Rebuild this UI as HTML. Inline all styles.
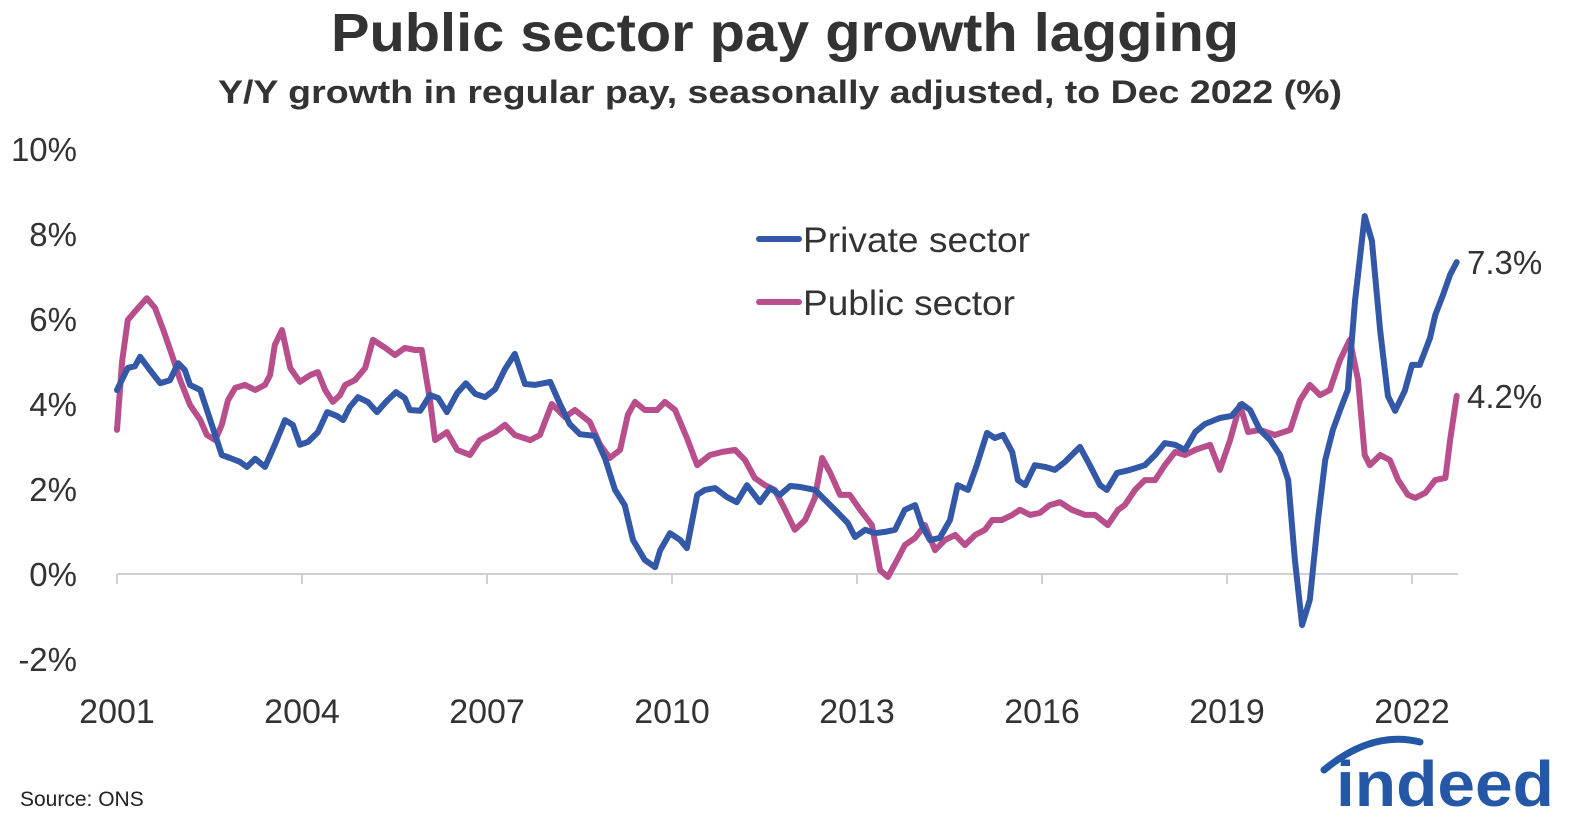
<!DOCTYPE html>
<html><head><meta charset="utf-8"><style>
html,body{margin:0;padding:0;background:#fff;overflow:hidden;width:1582px;height:824px;font-family:"Liberation Sans",sans-serif;}
svg{display:block;}
</style></head><body>
<svg id="chart" width="1582" height="824" xmlns="http://www.w3.org/2000/svg" font-family="Liberation Sans, sans-serif">
<text x="785" y="51" text-anchor="middle" font-size="54" font-weight="bold" fill="#333" textLength="908" lengthAdjust="spacingAndGlyphs">Public sector pay growth lagging</text>
<text x="780" y="103" text-anchor="middle" font-size="32" font-weight="bold" fill="#333" textLength="1124" lengthAdjust="spacingAndGlyphs">Y/Y growth in regular pay, seasonally adjusted, to Dec 2022 (%)</text>
<g id="axes"></g>
<g id="series"></g>
<g>
<line x1="759" y1="239" x2="799" y2="239" stroke="#3358a7" stroke-width="6" stroke-linecap="round"/>
<text x="803" y="252" font-size="35" fill="#333" textLength="227" lengthAdjust="spacingAndGlyphs">Private sector</text>
<line x1="759" y1="302" x2="799" y2="302" stroke="#b84f8c" stroke-width="6" stroke-linecap="round"/>
<text x="803" y="315" font-size="35" fill="#333" textLength="212" lengthAdjust="spacingAndGlyphs">Public sector</text>
</g>
<text x="20" y="806" font-size="21" fill="#222">Source: ONS</text>
<g>
<path d="M1324 770 Q1372 730 1420 742" stroke="#2557a7" stroke-width="7" fill="none" stroke-linecap="round"/>
<text x="1336" y="806" font-size="64" font-weight="bold" fill="#2557a7" textLength="218" lengthAdjust="spacingAndGlyphs">indeed</text>
</g>
</svg>
<script>
const NS="http://www.w3.org/2000/svg";
const yTicks=[-2,0,2,4,6,8,10];
const xTickYears=[2001,2004,2007,2010,2013,2016,2019,2022];
const privMonths=[0,2.1,3.5,4.5,6.4,8.4,10.3,11.9,13.2,14.2,16.2,17.5,19.1,20.4,22,23.9,25.3,26.9,28.8,30.7,32.7,34.2,35.6,37.2,39.1,40.9,42.8,44,45.3,46.9,48.8,50.6,52.5,54.3,56,57,59,60.9,62.5,64.2,66.2,67.9,69.7,71.6,73.6,75.5,77.4,79.4,81.3,84.3,86.2,88.1,90.1,93,95,96.9,98.8,100.4,102.7,104.7,105.7,107.6,109.6,110.9,112.9,114.4,116.4,118.7,120.6,122.6,125.1,127.1,129,131,132.9,135.8,137.8,139.7,142.2,143.6,145.6,147.5,149.4,151.4,153.3,155.3,156.6,158.2,160.1,162.1,163.6,165.6,167.3,169.3,170.8,172.4,174.2,175.3,176.7,178.6,180.6,182.5,184.5,187.4,189.3,191.3,192.6,194.6,197.1,200,202,203.9,205.9,207.8,209.8,211.7,214.6,216.9,218.9,220.5,222.4,224.4,226.3,227.9,229.2,230.6,232.1,233.7,235.1,236.6,238,239.5,240.9,242.8,244.2,245.8,247.3,248.7,250.6,252,253.5,255.5,256.5,258,259.4,260.7];
const privValues=[4.33,4.85,4.89,5.11,4.80,4.49,4.56,4.96,4.80,4.45,4.33,3.86,3.27,2.80,2.73,2.64,2.52,2.71,2.52,3.04,3.62,3.51,3.04,3.11,3.34,3.81,3.72,3.62,3.93,4.16,4.05,3.81,4.07,4.28,4.14,3.86,3.84,4.21,4.14,3.81,4.26,4.49,4.24,4.16,4.35,4.82,5.18,4.47,4.45,4.52,4.0,3.53,3.29,3.25,2.71,1.98,1.62,0.8,0.33,0.16,0.56,0.96,0.80,0.61,1.86,1.98,2.02,1.81,1.69,2.09,1.69,2.02,1.86,2.07,2.05,1.98,1.74,1.51,1.20,0.87,1.04,0.96,0.99,1.04,1.51,1.62,1.15,0.80,0.85,1.27,2.09,1.98,2.56,3.32,3.20,3.27,2.87,2.21,2.09,2.56,2.52,2.45,2.64,2.99,2.56,2.09,1.98,2.38,2.45,2.56,2.80,3.08,3.04,2.92,3.34,3.53,3.67,3.72,4.0,3.86,3.39,3.15,2.80,2.21,0.33,-1.20,-0.61,1.27,2.68,3.39,3.86,4.33,6.42,8.42,7.84,5.72,4.19,3.84,4.31,4.92,4.92,5.55,6.09,6.56,7.04,7.34];
const pubMonths=[0,1,2.1,4.1,5.8,7.4,9,10.7,12.3,14.2,16.2,17.5,19.1,20.4,21.6,23,24.9,26.9,28.8,29.8,30.7,32.1,33.7,35.6,37.6,39.1,40.5,42,43.4,44.4,46.3,48.3,49.8,52.2,54.1,56,58,59.3,60.9,61.9,64.2,66.2,68.7,70.6,73.6,75.5,77.4,80.4,82.3,84.6,87.2,89.1,92,94,95.9,97.9,99.4,100.8,102.7,105.1,106.6,108.6,110.9,112.9,115.4,117.7,120.3,122.2,124.1,126.1,128,130,131.9,133.9,135.8,137.2,138.7,140.7,142.6,144.6,146.9,148.5,150,151.8,153.3,155.3,157.2,159.2,161.1,163.1,165,167,168.9,170.3,172.2,174.2,175.7,177.7,179.6,181.5,183.5,185.8,188.4,190.3,192.8,194.8,196.1,198.1,200,202,203.9,205.9,207.8,209.8,212.7,214.6,216.6,218.5,220.1,222.4,225.3,228.3,230.2,232.1,234.1,236,238,239.9,241.5,242.8,243.8,245.8,247.7,249.3,251.2,252.6,254.6,256.5,258.5,259.4,260.7];
const pubValues=[3.39,5.0,5.98,6.26,6.49,6.26,5.74,5.15,4.56,3.98,3.62,3.27,3.15,3.51,4.09,4.38,4.45,4.33,4.45,4.68,5.39,5.74,4.85,4.52,4.68,4.75,4.33,4.05,4.21,4.45,4.56,4.85,5.51,5.32,5.15,5.32,5.27,5.27,4.09,3.15,3.34,2.92,2.80,3.15,3.34,3.51,3.27,3.15,3.27,4.0,3.69,3.86,3.58,3.04,2.73,2.92,3.74,4.05,3.86,3.86,4.05,3.86,3.20,2.56,2.80,2.87,2.92,2.68,2.26,2.09,1.98,1.51,1.04,1.27,1.79,2.73,2.40,1.86,1.86,1.51,1.15,0.09,-0.07,0.33,0.68,0.85,1.15,0.56,0.80,0.92,0.68,0.92,1.04,1.27,1.27,1.39,1.51,1.39,1.44,1.62,1.69,1.51,1.39,1.39,1.15,1.51,1.62,1.98,2.21,2.21,2.56,2.87,2.80,2.92,3.04,2.45,3.15,3.98,3.34,3.39,3.27,3.39,4.09,4.45,4.21,4.33,5.04,5.51,4.56,2.80,2.56,2.80,2.68,2.21,1.86,1.79,1.91,2.21,2.26,3.15,4.19];
const endLabels=["7.3%","4.2%"];

const X0=117,PXM=5.139,Y0=574,PXV=42.5;
const xs=m=>X0+m*PXM, ys=v=>Y0-v*PXV;
const axes=document.getElementById('axes'), series=document.getElementById('series');
function mk(tag,attrs,parent){const e=document.createElementNS(NS,tag);for(const k in attrs)e.setAttribute(k,attrs[k]);parent.appendChild(e);return e;}
yTicks.forEach(t=>{
  const tx=mk('text',{x:77,y:ys(t)+12,'text-anchor':'end','font-size':33,fill:'#333'},axes);
  
  
  tx.textContent=t+'%';
});
const ax=mk('line',{x1:X0,y1:Y0,x2:1458,y2:Y0,stroke:'#d0d0d0','stroke-width':2},axes);


xTickYears.forEach(yr=>{
  const x=xs((yr-2001)*12);
  const tk=mk('line',{x1:x,y1:Y0,x2:x,y2:Y0+10,stroke:'#d0d0d0','stroke-width':2},axes);
  
  
  const tx=mk('text',{x:x,y:723,'text-anchor':'middle','font-size':34,fill:'#333'},axes);
  
  
  tx.textContent=yr;
});
function line(ms,vs,color,name){
  const d=ms.map((m,i)=>(i?'L':'M')+xs(m).toFixed(1)+' '+ys(vs[i]).toFixed(1)).join(' ');
  const p=mk('path',{d:d,fill:'none',stroke:color,'stroke-width':6,'stroke-linejoin':'round','stroke-linecap':'round'},series);
  
  
}
line(pubMonths,pubValues,'#b84f8c','public-sector-line');
line(privMonths,privValues,'#3358a7','private-sector-line');
const l1=mk('text',{x:1467,y:ys(privValues[privValues.length-1])+12,'font-size':33,fill:'#333'},series);


l1.textContent=endLabels[0];
const l2=mk('text',{x:1467,y:ys(pubValues[pubValues.length-1])+12,'font-size':33,fill:'#333'},series);


l2.textContent=endLabels[1];
</script>
</body></html>
